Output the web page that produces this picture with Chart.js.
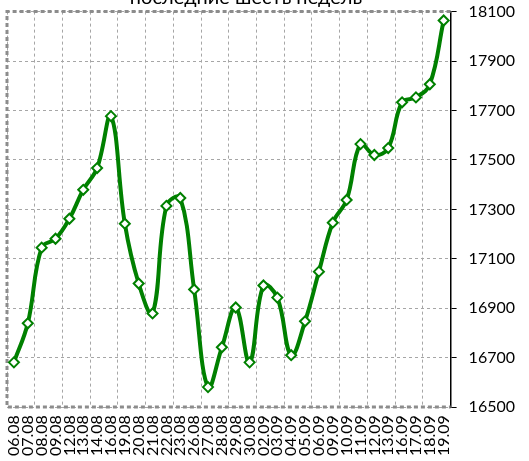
<!DOCTYPE html>
<html lang="ru">
<head>
  <meta charset="UTF-8" />
  <title>Chart</title>
  <script src="https://cdn.jsdelivr.net/npm/chart.js@4.4.1/dist/chart.umd.min.js"></script>
  <style>
    html, body { margin: 0; padding: 0; overflow: hidden; background: #fff; }
    .wrap { position: relative; width: 529px; height: 461px; overflow: hidden; }
    .title { position: absolute; left: 0; width: 492px; top: -14px; text-align: center;
             font: 20px/20px Lato, "Open Sans", sans-serif; color: #000; }
    .box { position: absolute; left: 0; top: -10px; width: 529px; height: 474px; }
  </style>
</head>
<body>
  <div class="wrap">
    <div class="box"><canvas id="lineChart"></canvas></div>
    <div class="title">последние шесть недель</div>
  </div>
<script>
  const dates = ['06.08','07.08','08.08','09.08','12.08','13.08','14.08','16.08','19.08','20.08',
    '21.08','22.08','23.08','26.08','27.08','28.08','29.08','30.08','02.09','03.09',
    '04.09','05.09','06.09','09.09','10.09','11.09','12.09','13.09','16.09','17.09','18.09','19.09'];
  const values = [16681, 16839, 17145, 17181, 17262, 17379, 17467, 17677, 17242, 17000,
    16879, 17314, 17346, 16976, 16581, 16742, 16903, 16681, 16992, 16943,
    16710, 16847, 17048, 17246, 17338, 17564, 17520, 17548, 17733, 17753, 17806, 18064];
  const yMin = 16500;
  const yMax = 18100;
  const yStep = 200;

  const fontFamily = 'Lato, "Open Sans", sans-serif';

  // dashed outline of the plot area
  const plotBorder = {
    id: 'plotBorder',
    beforeDatasetsDraw(chart) {
      const a = chart.chartArea;
      const ctx = chart.ctx;
      ctx.save();
      ctx.strokeStyle = '#8c8c8c';
      ctx.lineWidth = 3;
      ctx.setLineDash([4, 3]);
      ctx.beginPath();
      ctx.moveTo(a.right, a.top);
      ctx.lineTo(a.left, a.top);
      ctx.lineTo(a.left, a.bottom);
      ctx.lineTo(a.right, a.bottom);
      ctx.stroke();
      ctx.restore();
    }
  };

  new Chart('lineChart', {
    type: 'line',
    data: {
      labels: dates,
      datasets: [{
        data: values,
        borderColor: '#008000',
        borderWidth: 4,
        tension: 0.4,
        fill: false,
        pointStyle: 'rectRot',
        pointRadius: 5,
        pointBackgroundColor: '#fff',
        pointBorderColor: '#008000',
        pointBorderWidth: 2
      }]
    },
    options: {
      responsive: true,
      maintainAspectRatio: false,
      animation: false,
      layout: { padding: { top: 0, right: 2, left: 2, bottom: 0 } },
      plugins: { legend: { display: false }, tooltip: { enabled: false }, title: { display: false } },
      scales: {
        x: {
          offset: true,
          grid: {
            offset: true,
            drawTicks: false,
            color: ctx => ctx.index % 2 === 0 ? '#a6a6a6' : 'rgba(0,0,0,0)',
            lineWidth: 1
          },
          border: { display: false, dash: [3, 3] },
          ticks: {
            autoSkip: false,
            minRotation: 90,
            maxRotation: 90,
            padding: 8,
            color: '#000',
            font: { family: fontFamily, size: 16 }
          }
        },
        y: {
          position: 'right',
          min: yMin,
          max: yMax,
          grid: {
            color: '#a6a6a6',
            tickColor: '#000',
            tickLength: 6,
            lineWidth: 1
          },
          border: { display: true, color: '#000', width: 1.5, dash: [3, 3] },
          ticks: {
            stepSize: yStep,
            padding: 12,
            color: '#000',
            font: { family: fontFamily, size: 16 },
            callback: v => String(v)
          }
        }
      }
    },
    plugins: [plotBorder]
  });
</script>
</body>
</html>
